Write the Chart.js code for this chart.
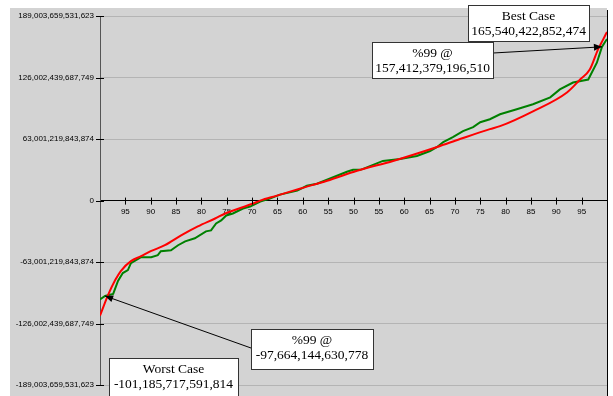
<!DOCTYPE html>
<html>
<head>
<meta charset="utf-8">
<script src="https://cdn.jsdelivr.net/npm/chart.js@4.4.1/dist/chart.umd.min.js"></script>
<style>
  html, body { margin: 0; padding: 0; background: #fff; }
  canvas { display: block; }
</style>
</head>
<body>
<canvas id="chart" width="613" height="396"></canvas>
<script>
// x = percentile rank (0..100), y = value in trillions
const redPct = [0, 1.6, 3, 4.1, 6.1, 8.1, 10, 12.8, 16, 19.3, 22.7, 24.7, 30.2, 31.6, 34.9, 39.4, 44.8, 50.7, 57.8, 66.5, 71, 76.9, 78.9, 85.4, 92.1, 94.7, 96.6, 98.2, 99.2, 100];
const redVal = [-117.9, -96.5, -81.3, -72.1, -62.0, -56.9, -51.8, -45.7, -35.6, -26.4, -18.3, -13.2, -3.0, 0, 5.1, 12.2, 20.3, 30.5, 40.6, 54.9, 63.0, 73.2, 76.2, 91.4, 110.7, 124.0, 134.1, 154.4, 164.6, 172.7];

const greenPct = [0, 1, 2.6, 3.55, 4.5, 5.5, 6.1, 7.1, 8.1, 10.1, 11.4, 12.0, 14.0, 15.4, 16.8, 18.7, 20.9, 21.9, 22.9, 23.9, 24.9, 26.2, 28.2, 29.6, 31.6, 33.5, 35.5, 38.9, 40.8, 42.8, 48.7, 49.9, 51.3, 51.9, 55.8, 59.2, 62.5, 65.1, 66.5, 67.7, 69.6, 71.6, 73.6, 75.0, 76.9, 78.9, 82.2, 85.4, 88.8, 90.7, 93.3, 96.3, 98.0, 99, 100];
const greenVal = [-101.185717591814, -97.664144630778, -95.5, -82.3, -74.2, -71.1, -64.0, -61.0, -57.9, -57.9, -55.9, -51.8, -50.8, -45.7, -41.7, -38.6, -31.5, -30.5, -23.4, -20.3, -15.2, -13.2, -8.1, -6.1, -1.0, 2.0, 6.1, 10.2, 15.2, 17.3, 29.5, 31.5, 31.5, 32.5, 40.6, 42.7, 45.7, 50.8, 54.9, 60.0, 65.0, 71.1, 75.2, 80.3, 83.3, 88.4, 93.5, 98.6, 105.7, 113.8, 120.9, 124.0, 141.2, 157.412379196510, 165.540422852474];

const yTickValues = [-189.003659531623, -126.002439687749, -63.001219843874, 0, 63.001219843874, 126.002439687749, 189.003659531623];
const yTickLabels = ['-189,003,659,531,623', '-126,002,439,687,749', '-63,001,219,843,874', '0', '63,001,219,843,874', '126,002,439,687,749', '189,003,659,531,623'];

const xTickValues = [5, 10, 15, 20, 25, 30, 35, 40, 45, 50, 55, 60, 65, 70, 75, 80, 85, 90, 95];
const xTickLabels = ['95', '90', '85', '80', '75', '70', '65', '60', '55', '50', '55', '60', '65', '70', '75', '80', '85', '90', '95'];

const calloutTitles = ['Best Case', '%99 @', '%99 @', 'Worst Case'];
const calloutValues = ['165,540,422,852,474', '157,412,379,196,510', '-97,664,144,630,778', '-101,185,717,591,814'];
const calloutPct = [null, 99, 1, null];

function toPoints(xs, ys) {
    return xs.map((x, i) => ({ x: x, y: ys[i] }));
}

const frame = {
    id: 'frame',
    beforeDraw(chart) {
        const c = chart.ctx;
        c.save();
        c.fillStyle = '#ffffff';
        c.fillRect(0, 0, chart.width, chart.height);
        c.fillStyle = '#d3d3d3';
        c.fillRect(10, 8, chart.chartArea.right - 10, chart.height - 8);
        c.restore();
    },
    afterDraw(chart) {
        const c = chart.ctx;
        const xs = chart.scales.x;
        const ys = chart.scales.y;
        const zeroY = ys.getPixelForValue(0);
        const left = chart.chartArea.left;
        c.save();
        c.strokeStyle = '#000';
        c.lineWidth = 1;
        // right frame line
        c.beginPath();
        c.moveTo(chart.chartArea.right + 0.5, 10);
        c.lineTo(chart.chartArea.right + 0.5, chart.height);
        c.stroke();
        // tick crosses
        c.beginPath();
        xTickValues.forEach(v => {
            const px = Math.round(xs.getPixelForValue(v)) + 0.5;
            c.moveTo(px, zeroY - 3);
            c.lineTo(px, zeroY + 4);
        });
        yTickValues.forEach(v => {
            const py = Math.round(ys.getPixelForValue(v)) + 0.5;
            c.moveTo(left - 4, py);
            c.lineTo(left + 4, py);
        });
        c.stroke();

        // callouts
        const boxes = [
            { x: 468, y: 5, w: 121, h: 36, ax: 'right' },
            { x: 372, y: 42, w: 121, h: 36, ax: 'right' },
            { x: 251, y: 329, w: 122, h: 40, ax: 'left' },
            { x: 109, y: 358, w: 129, h: 40, ax: 'left' }
        ];
        boxes.forEach((b, i) => {
            if (calloutPct[i] !== null) {
                const k = greenPct.indexOf(calloutPct[i]);
                const tx = xs.getPixelForValue(greenPct[k]);
                const ty = ys.getPixelForValue(greenVal[k]);
                const sx = b.ax === 'right' ? b.x + b.w : b.x;
                const sy = b.y + (i === 1 ? 11 : 19);
                c.strokeStyle = '#000';
                c.beginPath();
                c.moveTo(sx, sy);
                c.lineTo(tx, ty);
                c.stroke();
                const ang = Math.atan2(ty - sy, tx - sx);
                c.fillStyle = '#000';
                c.beginPath();
                c.moveTo(tx, ty);
                c.lineTo(tx - 8 * Math.cos(ang) + 3.5 * Math.sin(ang), ty - 8 * Math.sin(ang) - 3.5 * Math.cos(ang));
                c.lineTo(tx - 8 * Math.cos(ang) - 3.5 * Math.sin(ang), ty - 8 * Math.sin(ang) + 3.5 * Math.cos(ang));
                c.closePath();
                c.fill();
            }
            c.fillStyle = '#ffffff';
            c.fillRect(b.x, b.y, b.w, b.h);
            c.strokeStyle = '#333';
            c.strokeRect(b.x + 0.5, b.y + 0.5, b.w, b.h);
            c.fillStyle = '#000';
            c.font = '13.5px "Liberation Serif"';
            c.textAlign = 'center';
            c.textBaseline = 'middle';
            c.fillText(calloutTitles[i], b.x + b.w / 2, b.y + 11);
            c.fillText(calloutValues[i], b.x + b.w / 2, b.y + 26.5);
        });
        c.restore();
    }
};

new Chart(document.getElementById('chart'), {
    type: 'line',
    data: {
        datasets: [
            {
                label: 'Fitted',
                data: toPoints(redPct, redVal),
                borderColor: '#ff0000',
                borderWidth: 2,
                pointRadius: 0,
                cubicInterpolationMode: 'monotone',
                fill: false
            },
            {
                label: 'Observed',
                data: toPoints(greenPct, greenVal),
                borderColor: '#008000',
                borderWidth: 2,
                pointRadius: 0,
                tension: 0,
                fill: false
            }
        ]
    },
    options: {
        responsive: false,
        devicePixelRatio: 1,
        animation: false,
        layout: { padding: { top: 16, right: 6, bottom: 8, left: 0 } },
        plugins: { legend: { display: false }, tooltip: { enabled: false } },
        scales: {
            x: {
                type: 'linear',
                min: 0,
                max: 100,
                position: { y: 0 },
                afterBuildTicks: scale => { scale.ticks = xTickValues.map(v => ({ value: v })); },
                ticks: {
                    autoSkip: false,
                    maxRotation: 0,
                    padding: 6,
                    color: '#000',
                    font: { family: 'Liberation Sans', size: 8 },
                    callback: (v, i) => xTickLabels[i]
                },
                grid: { display: false, drawTicks: false },
                border: { display: true, color: '#000', width: 1 }
            },
            y: {
                type: 'linear',
                min: yTickValues[0],
                max: yTickValues[yTickValues.length - 1],
                afterBuildTicks: scale => { scale.ticks = yTickValues.map(v => ({ value: v })); },
                afterFit: scale => { scale.width = 100; },
                ticks: {
                    autoSkip: false,
                    padding: 6,
                    color: '#000',
                    font: { family: 'Liberation Sans', size: 8 },
                    callback: (v, i) => yTickLabels[i]
                },
                grid: { color: '#b4b4b4', drawTicks: false },
                border: { display: true, color: '#555', width: 1 }
            }
        }
    },
    plugins: [frame]
});
</script>
</body>
</html>
